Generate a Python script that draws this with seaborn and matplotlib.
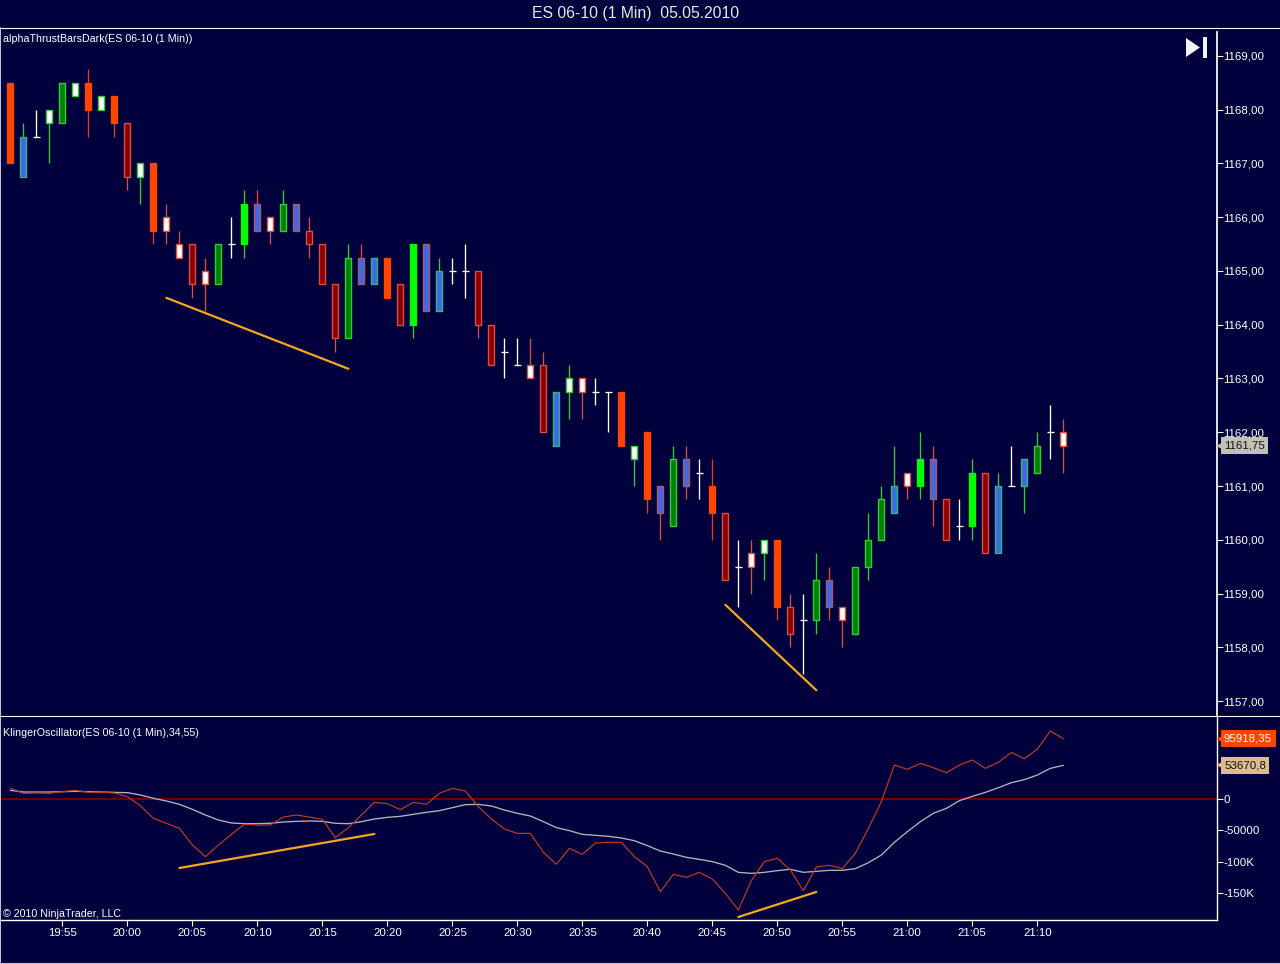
import numpy as np
import pandas as pd
import matplotlib
matplotlib.use("Agg")
import matplotlib.pyplot as plt
from matplotlib.lines import Line2D
from matplotlib.patches import Polygon
import seaborn as sns

# ---------- data ----------
body_top = [1168.5,1167.5,1167.5,1168.0,1168.5,1168.5,1168.5,1168.25,1168.25,1167.75,
            1167.0,1167.0,1166.0,1165.5,1165.5,1165.0,1165.5,1165.5,1166.25,1166.25,
            1166.0,1166.25,1166.25,1165.75,1165.5,1164.75,1165.25,1165.25,1165.25,1165.25,
            1164.75,1165.5,1165.5,1165.0,1165.0,1165.0,1165.0,1164.0,1163.5,1163.25,
            1163.25,1163.25,1162.75,1163.0,1163.0,1162.75,1162.75,1162.75,1161.75,1162.0,
            1161.0,1161.5,1161.5,1161.25,1161.0,1160.5,1159.5,1159.75,1160.0,1160.0,
            1158.75,1158.5,1159.25,1159.25,1158.75,1159.5,1160.0,1160.75,1161.0,1161.25,
            1161.5,1161.5,1160.75,1160.25,1161.25,1161.25,1161.0,1161.0,1161.5,1161.75,
            1162.0,1162.0]
body_bottom = [1167.0,1166.75,1167.5,1167.75,1167.75,1168.25,1168.0,1168.0,1167.75,1166.75,
               1166.75,1165.75,1165.75,1165.25,1164.75,1164.75,1164.75,1165.5,1165.5,1165.75,
               1165.75,1165.75,1165.75,1165.5,1164.75,1163.75,1163.75,1164.75,1164.75,1164.5,
               1164.0,1164.0,1164.25,1164.25,1165.0,1165.0,1164.0,1163.25,1163.5,1163.25,
               1163.0,1162.0,1161.75,1162.75,1162.75,1162.75,1162.75,1161.75,1161.5,1160.75,
               1160.5,1160.25,1161.0,1161.25,1160.5,1159.25,1159.5,1159.5,1159.75,1158.75,
               1158.25,1158.5,1158.5,1158.75,1158.5,1158.25,1159.5,1160.0,1160.5,1161.0,
               1161.0,1160.75,1160.0,1160.25,1160.25,1159.75,1159.75,1161.0,1161.0,1161.25,
               1162.0,1161.75]
high = [1168.5,1167.75,1168.0,1168.0,1168.5,1168.5,1168.75,1168.25,1168.25,1167.75,
        1167.0,1167.0,1166.25,1165.75,1165.5,1165.25,1165.5,1166.0,1166.5,1166.5,
        1166.0,1166.5,1166.25,1166.0,1165.5,1164.75,1165.5,1165.5,1165.25,1165.25,
        1164.75,1165.5,1165.5,1165.25,1165.25,1165.5,1165.0,1164.0,1163.75,1163.75,
        1163.75,1163.5,1162.75,1163.25,1163.0,1163.0,1162.75,1162.75,1161.75,1162.0,
        1161.0,1161.75,1161.75,1161.5,1161.5,1160.5,1160.0,1160.0,1160.0,1160.0,
        1159.0,1159.0,1159.75,1159.5,1158.75,1159.5,1160.5,1161.0,1161.75,1161.25,
        1162.0,1161.75,1160.75,1160.75,1161.5,1161.25,1161.25,1161.75,1161.5,1162.0,
        1162.5,1162.25]
low = [1167.0,1166.75,1167.5,1167.0,1167.75,1168.25,1167.5,1168.0,1167.5,1166.5,
       1166.25,1165.5,1165.5,1165.25,1164.5,1164.25,1164.75,1165.25,1165.25,1165.75,
       1165.5,1165.75,1165.75,1165.25,1164.75,1163.5,1163.75,1164.75,1164.75,1164.5,
       1164.0,1163.75,1164.25,1164.25,1164.75,1164.5,1163.75,1163.25,1163.0,1163.25,
       1163.0,1162.0,1161.75,1162.25,1162.25,1162.5,1162.0,1161.75,1161.0,1160.5,
       1160.0,1160.25,1160.75,1160.75,1160.0,1159.25,1158.75,1159.0,1159.25,1158.5,
       1158.0,1157.5,1158.25,1158.5,1158.0,1158.25,1159.25,1160.0,1160.5,1160.75,
       1160.75,1160.25,1160.0,1160.0,1160.0,1159.75,1159.75,1161.0,1160.5,1161.25,
       1161.5,1161.25]
# o orange, r dark red, l lime, g dark green, B blue/green edge, R blue/red edge,
# w white/green edge, x white/red edge, d doji
kinds = list("oBdwgwowor" "woxxrxgdlR" "xgRrrrgRBo" "rlRBddrrdd"
             "xrBwxddowo" "RgRdordxwo" "rdgRxgggBx" "lRrdlrBdBg" "dx")
klinger = [17.0,9.0,9.6,9.0,11.7,13.8,10.6,10.6,9.6,3.7,
           -10.6,-30.8,-38.8,-46.7,-73.3,-91.8,-73.3,-56.3,-40.3,-41.4,
           -41.4,-28.7,-25.5,-28.7,-32.4,-61.6,-45.6,-25.5,-5.3,-7.4,
           -17.0,-5.3,-8.5,9.0,17.0,12.7,-12.2,-31.8,-47.8,-54.7,
           -54.7,-84.9,-104.0,-78.6,-88.1,-70.1,-69.0,-69.0,-91.8,-107.8,
           -147.6,-120.0,-124.7,-116.8,-127.4,-150.2,-176.8,-130.0,-99.8,-94.5,
           -113.1,-146.0,-108.3,-105.6,-110.9,-86.5,-46.7,-4.2,54.1,47.2,
           56.8,49.9,41.9,54.1,62.1,48.8,58.4,74.3,64.2,79.6,108.3,95.9]
signal = [13.8,11.1,11.1,11.1,11.7,12.2,11.7,11.1,10.6,10.1,
          6.4,1.1,-3.2,-8.5,-16.5,-25.5,-33.4,-38.2,-39.3,-39.3,
          -38.7,-36.6,-35.6,-35.0,-35.6,-38.7,-39.3,-36.1,-31.8,-29.2,
          -27.6,-24.4,-21.2,-18.6,-13.8,-9.0,-8.5,-11.1,-17.5,-22.8,
          -27.1,-36.1,-45.6,-50.4,-56.3,-57.9,-59.4,-62.1,-66.4,-74.3,
          -82.8,-87.6,-92.9,-96.1,-99.8,-105.6,-116.8,-118.4,-116.8,-114.1,
          -112.0,-116.8,-115.2,-113.6,-113.6,-110.9,-101.4,-89.2,-69.0,-52.0,
          -36.1,-22.8,-14.9,-2.7,4.2,10.6,18.0,26.0,30.8,38.2,48.8,53.67]
price_ticks = [1157,1158,1159,1160,1161,1162,1163,1164,1165,1166,1167,1168,1169]
osc_ticks = [0,-50,-100,-150]
osc_labels = ["0","-50000","-100K","-150K"]
time_ticks = ["19:55","20:00","20:05","20:10","20:15","20:20","20:25","20:30","20:35","20:40",
              "20:45","20:50","20:55","21:00","21:05","21:10"]
time_tick_pos = [4,9,14,19,24,29,34,39,44,49,54,59,64,69,74,79]
price_trends = [((12,1164.5),(26,1163.18)),((55,1158.79),(62,1157.2))]
osc_trends = [((13,-109.9),(28,-55.7)),((56,-187.9),(62,-148.0))]

df = pd.DataFrame(dict(i=np.arange(len(high)),top=body_top,bot=body_bottom,high=high,low=low,
                       kind=kinds,klinger=klinger,signal=signal))

# ---------- style ----------
BG = "#00003c"
WHITE = "#ffffff"
sns.set_theme(style="dark", rc={"axes.facecolor":BG,"figure.facecolor":BG,"axes.grid":False})
plt.rcParams["font.family"] = ["Liberation Sans","DejaVu Sans"]
FS = 7.65
FS_TICK = 8.25

W, H = 1280, 964
fig = plt.figure(figsize=(W/100,H/100),dpi=100,facecolor=BG)
def px_axes(l,t,r,b):
    return fig.add_axes([l/W,1-b/H,(r-l)/W,(b-t)/H])
ax = px_axes(0,28,1216.5,715)
axk = px_axes(0,716,1216.5,920)
xlim = (-0.8,92.78)
for a in (ax,axk):
    a.set_facecolor(BG)
    a.set_xlim(*xlim)
    for s in a.spines.values():
        s.set_visible(False)
    a.yaxis.tick_right()
    a.tick_params(axis="y",colors=WHITE,length=4.3,width=0.8,labelsize=FS_TICK,pad=0.5,left=False,right=True)
ax.set_ylim(1156.74,1169.52)
axk.set_ylim(-192.7,132.2)

styles = {
 "o":("#ff4500","#ff4500","#d8432a"),
 "r":("#8b0000","#d9503f","#d9503f"),
 "l":("#00ff00","#00ff00","#32cd32"),
 "g":("#008000","#32cd32","#32cd32"),
 "B":("#4169e1","#2eb88a","#32cd32"),
 "R":("#4169e1","#a85a70","#d9503f"),
 "w":("#ffffff","#32cd32","#32cd32"),
 "x":("#ffffff","#d9503f","#d9503f"),
 "d":("#ffffff","#ffffff","#ffffff"),
}
for k,g in df.groupby("kind"):
    fill,edge,wick = styles[k]
    ax.vlines(g.i,g.low,g.high,color=wick,lw=0.95,zorder=2)
    if k=="d":
        ax.hlines(g.top,g.i-0.27,g.i+0.27,color=WHITE,lw=0.95,zorder=3)
    else:
        ax.bar(g.i,g.top-g.bot,bottom=g.bot,width=0.46,color=fill,edgecolor=edge,linewidth=1.0,zorder=3)

for (p0,p1) in price_trends:
    ax.plot([p0[0],p1[0]],[p0[1],p1[1]],color="#f5a623",lw=1.6,zorder=4,solid_capstyle="round")
for (p0,p1) in osc_trends:
    axk.plot([p0[0],p1[0]],[p0[1],p1[1]],color="#f5a623",lw=1.6,zorder=4,solid_capstyle="round",clip_on=False)

axk.axhline(0,color="#8b0000",lw=1.1,zorder=1)
sns.lineplot(data=df,x="i",y="signal",ax=axk,color="#b4b4bc",lw=0.95,estimator=None,zorder=3)
sns.lineplot(data=df,x="i",y="klinger",ax=axk,color="#c23a26",lw=0.85,estimator=None,zorder=4)

ax.set_yticks(price_ticks)
ax.set_yticklabels([f"{v},00" for v in price_ticks])
ax.set_xticks([])
ax.set_xlabel(""); ax.set_ylabel("")
axk.set_yticks(osc_ticks); axk.set_yticklabels(osc_labels)
axk.set_xticks(time_tick_pos); axk.set_xticklabels(time_ticks)
axk.tick_params(axis="x",colors=WHITE,length=4.3,width=0.8,labelsize=FS_TICK,pad=1.5,bottom=True)
axk.set_xlabel(""); axk.set_ylabel("")

# frames
ax.spines["right"].set_visible(True); ax.spines["right"].set_color(WHITE); ax.spines["right"].set_bounds(1156.74,1169.45)
for s in ("right","bottom"):
    axk.spines[s].set_visible(True); axk.spines[s].set_color(WHITE); axk.spines[s].set_linewidth(1)
def hline(y,x0=0,x1=W,color=WHITE):
    fig.add_artist(Line2D([x0/W,x1/W],[1-y/H,1-y/H],color=color,lw=0.8))
hline(27.5); hline(715.5); hline(962.5,color="#c8c8d8")
fig.add_artist(Line2D([0.4/W,0.4/W],[1-962/H,1-27/H],color="#c8c8d8",lw=0.7))

# texts
fig.text(636/W,1-13.5/H,"ES 06-10 (1 Min)  05.05.2010",color="#e8e8e8",fontsize=11.3,ha="center",va="center")
fig.text(3/W,1-39/H,"alphaThrustBarsDark(ES 06-10 (1 Min))",color=WHITE,fontsize=FS,va="center")
fig.text(3/W,1-733/H,"KlingerOscillator(ES 06-10 (1 Min),34,55)",color=WHITE,fontsize=FS,va="center")
fig.text(3/W,1-914/H,"\u00a9 2010 NinjaTrader, LLC",color=WHITE,fontsize=FS,va="center")

def flag(a,y,txt,fc,tc):
    a.plot([1+5.5/1216.5],[y],marker="<",ms=8,mew=0,color=fc,transform=a.get_yaxis_transform(),clip_on=False,zorder=5)
    a.annotate(txt,xy=(1,y),xycoords=a.get_yaxis_transform(),xytext=(7.5,0),textcoords="offset pixels",
               color=tc,fontsize=FS_TICK,va="center",ha="left",annotation_clip=False,zorder=6,
               bbox=dict(boxstyle="square,pad=0.3",fc=fc,ec="none"))
flag(ax,1161.75,"1161,75","#c0c0b4","#101010")
flag(axk,95.918,"95918,35","#ff4500",WHITE)
flag(axk,53.67,"53670,8","#dcbc8c","#101010")

# skip-to-end icon
fig.add_artist(Polygon([[1186/W,1-38/H],[1186/W,1-57/H],[1200/W,1-47.5/H]],closed=True,fc="#f4f4ff",ec="none",transform=fig.transFigure))
fig.add_artist(Polygon([[1202.5/W,1-37/H],[1206.5/W,1-37/H],[1206.5/W,1-58/H],[1202.5/W,1-58/H]],closed=True,fc="#f4f4ff",ec="none",transform=fig.transFigure))

fig.savefig("out.png",dpi=100,facecolor=BG)
